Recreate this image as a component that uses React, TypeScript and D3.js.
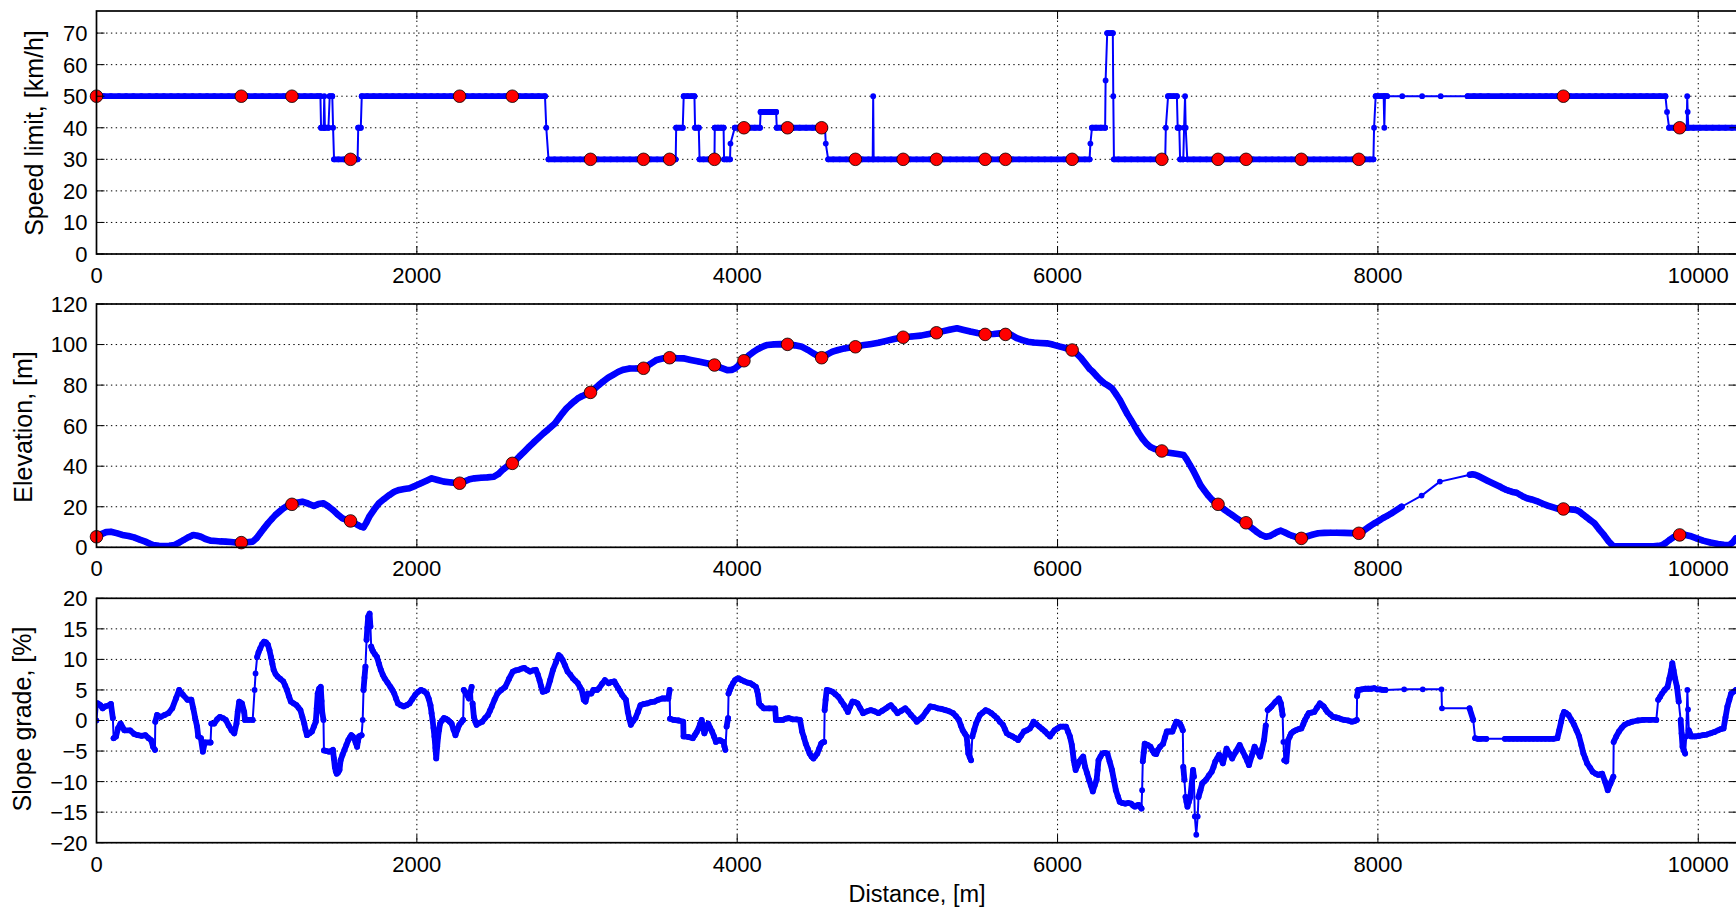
import React from "react";
import * as d3 from "d3";

// ---------- axis ticks ----------
const xTicks = [0, 2000, 4000, 6000, 8000, 10000];
const speedTicks = [0, 10, 20, 30, 40, 50, 60, 70];
const elevTicks = [0, 20, 40, 60, 80, 100, 120];
const slopeTicks = [-20, -15, -10, -5, 0, 5, 10, 15, 20];

// ---------- stops (red markers) ----------
const stopDist = [0, 904, 1220, 1586, 2267, 2596, 3084, 3415, 3578, 3858, 4042, 4314, 4527, 4738, 5036, 5244, 5548, 5675, 6091, 6651, 7002, 7177, 7522, 7881, 9158, 9884];
const stopSpeed = [50, 50, 50, 30, 50, 50, 30, 30, 30, 30, 40, 40, 40, 30, 30, 30, 30, 30, 30, 30, 30, 30, 30, 30, 50, 40];
const stopElev = [5.2, 2.3, 21.2, 13.0, 31.6, 41.4, 76.4, 88.3, 93.5, 89.9, 92.0, 100.1, 93.5, 98.9, 103.6, 105.8, 105.0, 105.0, 97.3, 47.5, 21.2, 12.1, 4.4, 6.9, 18.9, 6.1];

// ---------- speed limit [distance m, km/h] ----------
const speedLimit: [number, number][] = [
  [0,50],[45,50],[90,50],[140,50],[185,50],[230,50],[280,50],[330,50],[375,50],[420,50],[465,50],[510,50],[550,50],[600,50],[645,50],[690,50],[735,50],[780,50],[825,50],[870,50],[904,50],[945,50],[990,50],[1035,50],[1080,50],[1125,50],[1170,50],[1220,50],[1260,50],[1300,50],[1340,50],[1380,50],[1398,50],
  [1402,40],[1418,40],[1422,50],[1426,40],[1448,40],[1456,50],[1472,50],[1477,40],[1483,30],[1510,30],[1545,30],[1586,30],[1610,30],[1630,30],[1634,40],[1650,40],[1656,50],
  [1690,50],[1730,50],[1770,50],[1810,50],[1850,50],[1890,50],[1930,50],[1970,50],[2010,50],[2050,50],[2090,50],[2130,50],[2170,50],[2210,50],[2267,50],[2310,50],[2350,50],[2390,50],[2430,50],[2470,50],[2510,50],[2550,50],[2596,50],[2640,50],[2680,50],[2720,50],[2760,50],[2800,50],
  [2808,40],[2822,30],[2860,30],[2900,30],[2940,30],[2980,30],[3020,30],[3050,30],[3087,30],[3130,30],[3170,30],[3210,30],[3250,30],[3290,30],[3330,30],[3370,30],[3415,30],[3460,30],[3500,30],[3540,30],[3578,30],[3605,30],[3616,30],
  [3619,40],[3660,40],[3666,50],[3690,50],[3715,50],[3733,50],[3737,40],[3760,40],[3765,30],[3790,30],[3820,30],[3858,30],[3860,40],[3880,40],[3900,40],[3915,40],[3918,30],[3935,30],[3955,30],[3958,35],[3985,40],
  [4010,40],[4042,40],[4075,40],[4110,40],[4142,40],[4146,45],[4180,45],[4215,45],[4243,45],[4247,40],[4280,40],[4314,40],[4350,40],[4390,40],[4430,40],[4470,40],[4510,40],[4527,40],[4548,40],[4553,35],[4568,30],
  [4600,30],[4640,30],[4680,30],[4720,30],[4738,30],[4780,30],[4820,30],[4846,30],[4849,50],[4852,30],[4880,30],[4920,30],[4960,30],[5000,30],[5036,30],[5080,30],[5120,30],[5160,30],[5200,30],[5244,30],[5290,30],[5330,30],[5370,30],[5410,30],[5450,30],[5500,30],[5548,30],[5590,30],[5630,30],[5675,30],[5720,30],[5760,30],[5800,30],[5840,30],[5880,30],[5920,30],[5960,30],[6000,30],[6040,30],[6091,30],[6130,30],[6170,30],[6200,30],
  [6205,35],[6215,40],[6240,40],[6270,40],[6297,40],[6300,55],[6310,70],[6320,70],[6335,70],[6345,70],[6348,50],[6352,30],
  [6380,30],[6420,30],[6460,30],[6500,30],[6540,30],[6580,30],[6620,30],[6651,30],[6672,30],[6676,40],[6690,50],[6705,50],[6725,50],[6745,50],[6750,40],[6760,40],[6765,30],[6785,30],[6790,40],[6796,50],[6800,40],[6810,30],
  [6850,30],[6890,30],[6930,30],[6970,30],[7002,30],[7040,30],[7080,30],[7120,30],[7177,30],[7220,30],[7260,30],[7300,30],[7340,30],[7380,30],[7420,30],[7460,30],[7522,30],[7560,30],[7600,30],[7640,30],[7680,30],[7720,30],[7760,30],[7800,30],[7840,30],[7881,30],[7920,30],[7950,30],[7972,30],
  [7976,40],[7986,50],[8000,50],[8020,50],[8036,50],[8040,40],[8044,50],[8057,50],[8152,50],[8276,50],[8392,50],[8560,50],[8600,50],[8640,50],[8689,50],[8771,50],[8810,50],[8850,50],[8890,50],[8930,50],[8970,50],[9010,50],[9050,50],[9085,50],[9120,50],[9158,50],[9200,50],[9240,50],[9280,50],[9320,50],[9360,50],[9400,50],[9440,50],[9480,50],[9520,50],[9560,50],[9600,50],[9640,50],[9680,50],[9720,50],[9760,50],[9795,50],
  [9805,45],[9818,40],[9850,40],[9884,40],[9910,40],[9928,40],[9931,50],[9934,45],[9938,40],[9970,40],[10010,40],[10050,40],[10090,40],[10130,40],[10170,40],[10210,40],[10245,40],
];

// ---------- elevation [distance m, m] ----------
const elevation: [number, number][] = [
  [0,5.3],[30,6.5],[60,7.5],[90,7.7],[125,7.0],[162,6.1],[200,5.6],[234,4.9],[270,3.8],[305,2.8],[330,1.9],[353,1.1],[390,0.7],[425,0.6],[455,0.8],[485,1.1],[515,2.3],[544,3.6],[575,5.0],[604,6.1],[630,5.7],[652,5.2],[680,4.1],[712,3.3],[745,3.1],[776,2.9],[807,2.8],[840,2.6],[870,2.4],[904,2.3],[940,2.5],[975,2.8],[1000,4.6],[1022,6.9],[1046,9.4],[1070,11.8],[1095,14.0],[1118,16.0],[1142,17.6],[1165,19.1],[1190,20.4],[1218,21.2],[1250,22.0],[1285,22.5],[1320,21.6],[1357,20.4],[1385,21.3],[1417,21.7],[1445,20.3],[1476,18.4],[1505,16.2],[1536,14.3],[1560,13.6],[1586,13.0],[1610,12.0],[1631,11.0],[1650,10.2],[1667,9.8],[1685,12.2],[1703,15.1],[1733,18.6],[1763,21.7],[1795,23.8],[1827,25.7],[1859,27.4],[1890,28.3],[1922,28.7],[1954,29.1],[1990,30.3],[2026,31.6],[2060,32.8],[2093,34.0],[2130,33.2],[2169,32.4],[2215,32.0],[2267,31.6],[2300,32.6],[2330,33.6],[2360,34.0],[2400,34.3],[2440,34.5],[2480,34.8],[2510,36.2],[2540,38.5],[2566,40.0],[2596,41.4],[2620,43.2],[2645,45.2],[2671,47.2],[2700,49.5],[2730,51.8],[2760,54.0],[2790,56.2],[2815,57.8],[2840,59.6],[2862,61.1],[2887,63.8],[2910,66.2],[2934,68.5],[2960,70.4],[2983,72.0],[3005,73.4],[3030,74.5],[3055,75.4],[3084,76.4],[3110,78.2],[3137,80.1],[3162,81.7],[3195,83.7],[3228,85.2],[3258,86.6],[3290,87.6],[3329,88.2],[3370,88.2],[3415,88.2],[3455,90.3],[3496,92.4],[3540,93.2],[3578,93.5],[3620,93.3],[3664,93.2],[3710,92.4],[3759,91.6],[3810,90.8],[3858,89.9],[3900,88.5],[3938,87.4],[3965,87.5],[3986,88.2],[4010,89.8],[4042,92.0],[4075,94.8],[4100,96.3],[4130,97.8],[4160,99.0],[4189,99.8],[4230,100.1],[4270,100.2],[4314,100.1],[4360,99.6],[4405,98.9],[4440,97.4],[4476,95.6],[4500,94.5],[4527,93.5],[4560,95.0],[4595,96.5],[4630,97.3],[4670,98.1],[4705,98.5],[4738,98.9],[4780,99.6],[4830,100.2],[4882,100.9],[4930,101.8],[4980,102.7],[5036,103.6],[5090,104.0],[5145,104.4],[5190,105.1],[5244,105.9],[5280,106.5],[5325,107.3],[5372,108.0],[5415,107.2],[5456,106.4],[5500,105.7],[5548,105.1],[5600,105.2],[5640,105.5],[5675,105.9],[5710,104.8],[5745,103.2],[5780,102.2],[5814,101.4],[5850,101.0],[5890,100.8],[5933,100.6],[5970,100.0],[6010,99.1],[6050,98.3],[6091,97.3],[6120,95.5],[6148,93.2],[6175,90.5],[6200,88.0],[6220,86.6],[6245,84.4],[6268,82.5],[6290,81.0],[6315,79.8],[6340,78.4],[6365,75.5],[6390,72.5],[6411,69.3],[6435,65.8],[6460,62.6],[6483,59.5],[6505,56.5],[6530,53.6],[6555,51.2],[6580,49.5],[6610,48.4],[6651,47.5],[6685,46.8],[6717,46.4],[6750,46.0],[6787,45.5],[6805,43.5],[6825,40.8],[6845,38.1],[6868,34.5],[6892,30.7],[6915,28.2],[6938,25.8],[6965,23.4],[6997,21.2],[7020,19.8],[7045,18.4],[7068,17.1],[7090,15.9],[7115,14.5],[7140,13.2],[7172,12.1],[7195,10.6],[7220,9.1],[7242,7.7],[7270,6.2],[7300,5.2],[7325,5.6],[7350,6.6],[7372,7.6],[7394,8.2],[7420,7.3],[7445,6.3],[7464,5.7],[7490,5.0],[7517,4.4],[7550,5.2],[7590,6.2],[7627,6.9],[7665,7.1],[7705,7.2],[7743,7.2],[7790,7.1],[7835,7.0],[7876,6.9],[7910,8.2],[7945,10.1],[7977,11.8],[8000,12.8],[8015,13.6],[8035,14.6],[8055,15.4],[8075,16.3],[8090,17.0],[8148,20.0],[8273,25.5],[8387,32.4],[8575,35.8],[8590,36.0],[8605,35.8],[8620,35.4],[8687,32.7],[8760,30.0],[8780,29.1],[8800,28.4],[8820,27.8],[8840,27.3],[8866,26.9],[8890,25.8],[8910,24.9],[8930,24.2],[8960,23.6],[8991,22.8],[9026,21.6],[9060,20.6],[9090,19.8],[9120,19.1],[9158,18.9],[9190,18.8],[9220,18.6],[9241,18.3],[9259,17.6],[9280,16.2],[9300,15.0],[9324,13.5],[9353,11.8],[9380,9.0],[9411,6.1],[9440,3.0],[9470,0.5],[9500,0.5],[9530,0.5],[9563,0.5],[9600,0.5],[9640,0.5],[9680,0.5],[9720,0.5],[9750,0.7],[9773,1.0],[9797,2.2],[9820,3.6],[9850,5.2],[9884,6.1],[9915,6.2],[9948,5.6],[9990,4.4],[10030,3.3],[10075,2.4],[10123,1.6],[10160,1.2],[10193,1.1],[10215,2.4],[10235,4.4],
];

// ---------- slope grade [distance m, %] ----------
const slopeGrade: [number, number][] = [
  [0,0],[8,2.8],[24,2.5],[38,2.0],[54,2.3],[79,2.5],[90,2.7],[102,0.4],[107,-2.9],[122,-2.6],[134,-1.3],[150,-0.5],[174,-1.6],[210,-1.6],[235,-2.2],[258,-2.4],[282,-2.5],[305,-2.4],[325,-2.9],[341,-3.2],[353,-4.3],[365,-4.8],[367,-0.2],[378,0.9],[401,0.6],[425,0.9],[449,1.2],[473,2.0],[496,3.6],[516,5.0],[540,4.2],[568,3.4],[592,3.4],[604,2.0],[616,0.4],[628,-1.0],[635,-2.6],[652,-2.9],[664,-5.1],[676,-3.6],[712,-3.6],[717,-0.5],[735,-0.5],[753,0.2],[771,0.6],[789,0.4],[807,0.1],[825,-0.8],[843,-1.6],[860,-2.1],[874,-0.5],[882,1.5],[891,3.1],[908,2.8],[922,1.4],[927,0.1],[950,0.1],[975,0.1],
  [987,5.0],[993,7.7],[1003,10.4],[1012,11.2],[1022,11.8],[1034,12.5],[1046,12.9],[1058,12.8],[1070,12.4],[1080,11.5],[1089,10.4],[1098,9.3],[1106,8.3],[1118,7.6],[1130,7.2],[1148,6.8],[1166,6.4],[1178,5.7],[1189,5.0],[1201,4.0],[1213,3.1],[1231,2.8],[1249,2.5],[1261,2.1],[1273,1.7],[1285,0.6],[1297,-0.5],[1305,-1.5],[1314,-2.4],[1330,-2.1],[1345,-1.8],[1357,-1.0],[1369,-0.2],[1375,2.0],[1381,4.4],[1390,5.2],[1400,5.5],[1405,3.2],[1409,1.4],[1417,0.1],
  [1420,-4.9],[1436,-5.0],[1452,-5.1],[1464,-5.0],[1476,-4.8],[1482,-6.2],[1488,-7.6],[1494,-8.3],[1500,-8.7],[1508,-8.5],[1517,-8.1],[1524,-6.5],[1536,-5.6],[1548,-4.8],[1560,-4.0],[1572,-3.2],[1581,-2.8],[1591,-2.4],[1600,-2.6],[1608,-2.9],[1618,-3.6],[1627,-4.3],[1633,-3.3],[1639,-2.6],[1647,-2.5],[1655,-2.4],[1662,0.1],[1667,5.0],[1673,7.0],[1679,8.8],[1686,13.2],[1691,15.2],[1696,17.0],[1705,17.5],[1710,15.4],[1715,12.1],[1721,11.6],[1727,11.3],[1739,10.8],[1751,10.4],[1763,9.3],[1775,8.3],[1787,7.5],[1799,6.9],[1817,6.2],[1835,5.5],[1847,5.0],[1859,4.4],[1870,3.6],[1882,2.8],[1900,2.5],[1918,2.3],[1936,2.5],[1954,2.8],[1972,3.5],[1990,4.2],[2008,4.7],[2026,5.0],[2044,4.8],[2062,4.4],[2075,3.5],[2085,2.5],[2092,1.2],[2098,0.1],[2104,-1.2],[2110,-2.6],[2116,-4.5],[2121,-6.2],[2127,-4.2],[2133,-2.6],[2139,-1.5],[2145,-0.5],[2157,0.0],[2169,0.4],[2181,0.3],[2193,0.1],[2205,-0.2],[2217,-0.5],[2229,-1.5],[2241,-2.4],[2253,-1.5],[2265,-0.7],[2277,-0.3],[2289,0.1],
  [2293,5.0],[2303,4.6],[2313,4.2],[2325,3.6],[2334,4.6],[2342,5.5],[2348,2.8],[2356,0.6],[2365,-0.2],[2373,-0.7],[2390,-0.4],[2408,-0.2],[2426,0.4],[2444,0.9],[2456,1.6],[2468,2.3],[2485,3.4],[2503,4.4],[2527,5.0],[2552,5.5],[2575,6.8],[2599,8.0],[2617,8.2],[2635,8.3],[2653,8.5],[2671,8.6],[2688,8.3],[2706,8.0],[2725,8.2],[2743,8.3],[2755,7.5],[2766,6.6],[2776,5.6],[2786,4.7],[2800,4.8],[2814,5.0],[2832,6.6],[2850,8.3],[2868,9.5],[2886,10.7],[2898,10.4],[2910,9.9],[2925,9.0],[2941,8.0],[2958,7.5],[2974,6.9],[2990,6.5],[3005,6.1],[3017,5.5],[3029,5.0],[3042,3.4],[3053,3.1],[3066,4.4],[3089,4.4],[3102,5.0],[3125,5.0],[3138,5.3],[3156,6.0],[3174,6.6],[3198,6.1],[3215,6.3],[3233,6.4],[3245,5.8],[3257,5.3],[3269,4.8],[3281,4.2],[3293,3.8],[3305,3.4],[3317,1.4],[3326,0.3],[3336,-0.7],[3350,-0.1],[3365,0.4],[3380,1.4],[3396,2.5],[3417,2.7],[3437,2.8],[3460,3.0],[3484,3.1],[3508,3.4],[3532,3.6],[3548,3.6],[3570,3.6],[3578,5.0],[3581,0.3],[3604,0.1],[3635,0.0],[3663,-0.2],
  [3665,-2.6],[3695,-2.7],[3723,-2.9],[3735,-2.4],[3747,-1.9],[3759,-1.3],[3768,-0.6],[3778,0.1],[3786,-1.0],[3795,-2.1],[3807,-1.3],[3819,-0.5],[3831,-1.2],[3843,-1.8],[3855,-2.6],[3867,-3.5],[3879,-3.3],[3891,-3.2],[3903,-3.4],[3914,-3.5],[3920,-4.2],[3926,-4.8],[3934,-1.0],[3943,0.4],[3946,4.4],[3954,5.0],[3962,5.5],[3974,6.1],[3986,6.6],[3998,6.8],[4010,6.9],[4028,6.6],[4046,6.4],[4064,6.2],[4082,6.1],[4100,5.8],[4117,5.5],[4124,4.9],[4130,4.2],[4137,2.8],[4150,2.4],[4166,2.0],[4200,2.0],[4237,2.0],[4242,0.1],[4264,0.1],[4285,0.1],[4303,0.3],[4321,0.4],[4345,0.2],[4370,0.2],[4392,0.1],[4405,-1.8],[4417,-2.8],[4428,-3.8],[4440,-4.6],[4452,-5.4],[4464,-5.9],[4476,-6.2],[4488,-5.8],[4500,-5.4],[4512,-4.6],[4524,-3.8],[4533,-3.6],[4543,-3.5],
  [4546,1.7],[4552,3.4],[4559,5.0],[4577,4.9],[4595,4.7],[4613,4.3],[4631,3.9],[4649,3.2],[4667,2.5],[4679,2.0],[4691,1.4],[4705,2.3],[4720,3.1],[4735,3.0],[4751,2.8],[4768,2.0],[4786,1.2],[4810,1.5],[4834,1.7],[4858,1.5],[4882,1.2],[4906,1.6],[4930,2.0],[4945,2.3],[4959,2.5],[4980,1.9],[5001,1.2],[5025,1.6],[5049,2.0],[5067,1.5],[5085,0.9],[5103,0.4],[5121,-0.2],[5139,0.2],[5157,0.6],[5181,1.5],[5205,2.3],[5228,2.2],[5252,2.0],[5276,1.9],[5300,1.7],[5324,1.5],[5348,1.2],[5366,0.7],[5384,0.1],[5396,-0.8],[5408,-1.6],[5420,-2.1],[5432,-2.6],[5438,-4.0],[5443,-5.4],[5452,-6.0],[5460,-6.5],[5468,-2.6],[5480,-1.5],[5491,-0.5],[5503,0.2],[5515,0.9],[5533,1.3],[5551,1.7],[5569,1.5],[5587,1.2],[5605,0.8],[5622,0.4],[5640,-0.2],[5659,-0.7],[5671,-1.4],[5683,-2.1],[5701,-2.4],[5719,-2.6],[5737,-2.9],[5754,-3.2],[5772,-2.5],[5790,-1.8],[5808,-1.6],[5827,-1.3],[5839,-0.8],[5850,-0.2],[5868,-0.6],[5886,-1.0],[5904,-1.4],[5922,-1.8],[5937,-2.2],[5953,-2.6],[5967,-2.1],[5981,-1.6],[5999,-1.3],[6017,-1.0],[6035,-1.0],[6053,-1.0],[6065,-1.8],[6077,-2.6],
  [6089,-4.0],[6095,-5.2],[6101,-6.5],[6107,-7.3],[6113,-8.1],[6124,-7.4],[6136,-6.7],[6148,-6.3],[6160,-5.9],[6172,-7.6],[6184,-8.6],[6196,-9.7],[6208,-10.6],[6220,-11.6],[6232,-10.6],[6244,-9.7],[6250,-8.1],[6256,-6.5],[6268,-5.9],[6280,-5.4],[6295,-5.3],[6311,-5.4],[6325,-6.7],[6340,-8.1],[6352,-9.8],[6364,-11.4],[6376,-12.4],[6388,-13.3],[6405,-13.5],[6423,-13.6],[6441,-13.5],[6459,-13.6],[6471,-13.9],[6483,-14.1],[6495,-13.9],[6507,-13.8],[6516,-14.1],[6524,-14.4],[6528,-11.4],[6532,-6.7],[6538,-5.2],[6544,-3.8],[6562,-4.0],[6580,-4.3],[6592,-4.9],[6604,-5.4],[6616,-5.5],[6627,-4.8],[6640,-4.3],[6659,-3.8],[6670,-2.8],[6682,-1.8],[6700,-1.8],[6717,-1.8],[6729,-1.0],[6741,-0.2],[6753,-0.3],[6764,-0.5],[6773,-1.0],[6782,-1.6],
  [6785,-7.6],[6792,-9.7],[6799,-12.5],[6805,-13.3],[6811,-14.1],[6820,-13.3],[6829,-12.5],[6838,-10.3],[6846,-8.1],[6851,-9.2],[6857,-15.7],[6866,-18.7],[6875,-15.7],[6880,-12.5],[6892,-11.4],[6903,-10.3],[6915,-10.0],[6927,-9.7],[6945,-9.0],[6962,-8.4],[6974,-7.6],[6985,-6.7],[6997,-6.2],[7009,-5.6],[7020,-6.3],[7032,-7.0],[7044,-5.8],[7055,-4.6],[7072,-5.4],[7090,-6.2],[7113,-5.1],[7137,-4.0],[7155,-5.0],[7172,-5.9],[7184,-6.6],[7195,-7.3],[7212,-5.8],[7230,-4.3],[7248,-5.1],[7265,-5.9],[7277,-4.6],[7289,-3.2],[7300,-0.8],[7312,1.7],[7324,2.0],[7336,2.3],[7359,3.0],[7382,3.6],[7394,2.8],[7400,1.8],[7405,0.9],[7410,-3.5],[7416,-6.5],[7428,-6.7],[7434,-4.9],[7440,-3.2],[7450,-2.6],[7459,-2.1],[7473,-1.8],[7487,-1.6],[7505,-1.4],[7522,-1.3],[7534,-0.6],[7545,0.1],[7557,0.7],[7568,1.2],[7585,1.3],[7603,1.4],[7620,2.1],[7638,2.8],[7650,2.5],[7662,2.3],[7674,1.8],[7685,1.4],[7703,1.0],[7720,0.6],[7738,0.5],[7755,0.4],[7773,0.2],[7790,0.1],[7814,0.0],[7837,-0.2],[7855,-0.1],[7868,0.1],
  [7870,4.0],[7876,5.0],[7883,5.0],[7900,5.1],[7920,5.2],[7940,5.2],[7960,5.2],[7977,5.3],[7995,5.1],[8012,5.1],[8030,5.0],[8047,5.0],[8164,5.1],[8280,5.1],[8397,5.1],[8400,2.0],[8572,2.0],[8595,0.1],[8607,-2.9],[8625,-3.0],[8640,-3.0],[8677,-3.0],[8793,-3.0],[8820,-3.0],[8845,-3.0],[8870,-3.0],[8895,-3.0],[8920,-3.0],[8945,-3.0],[8970,-3.0],[8995,-3.0],[9020,-3.0],[9045,-3.0],[9070,-3.0],[9095,-3.0],[9120,-2.9],
  [9132,-1.6],[9144,-0.2],[9153,0.8],[9162,1.4],[9176,1.2],[9190,0.9],[9208,0.1],[9225,-0.7],[9240,-1.6],[9256,-2.6],[9270,-4.0],[9283,-5.4],[9295,-6.2],[9306,-7.0],[9324,-7.7],[9341,-8.4],[9359,-8.7],[9376,-8.9],[9388,-8.8],[9400,-8.7],[9418,-10.0],[9435,-11.4],[9452,-10.3],[9470,-9.2],[9472,-3.5],[9488,-2.6],[9505,-1.8],[9522,-1.2],[9540,-0.7],[9564,-0.4],[9587,-0.2],[9622,0.0],[9657,0.1],[9697,0.1],[9738,0.1],[9750,3.4],[9762,3.9],[9773,4.4],[9790,5.0],[9808,5.5],[9820,6.9],[9832,8.3],[9838,9.4],[9846,8.2],[9855,6.9],[9867,5.5],[9878,3.1],[9890,0.1],[9896,-2.1],[9902,-4.3],[9910,-4.9],[9918,-5.4],[9925,-2.6],[9932,5.0],[9936,1.8],[9941,-1.6],[9948,-2.1],[9955,-2.6],[9969,-2.6],[9983,-2.6],[10006,-2.5],[10030,-2.4],[10053,-2.3],[10077,-2.1],[10100,-1.9],[10123,-1.6],[10140,-1.4],[10158,-1.3],[10170,0.5],[10182,2.3],[10194,3.4],[10205,4.4],[10220,4.7],[10235,5.0],
];

// ---------- layout / style ----------
const W = 1736;
const H = 910;
const LEFT = 96.5;
const RIGHT = 1737.5;
const X_MAX = 10245;
const FONT = "'Liberation Sans', Arial, Helvetica, sans-serif";
const BLUE = "#0000ff";
const TICK_FS = 22;
const LABEL_FS = 25;

const x = d3.scaleLinear().domain([0, X_MAX]).range([LEFT, RIGHT]);
const fmt = (v: number) => (v < 0 ? "\u2212" + Math.abs(v) : String(v));

type PanelProps = {
  id: string;
  top: number;
  bottom: number;
  domain: [number, number];
  ticks: number[];
  label: string;
  labelX: number;
  labelY: number;
  data: [number, number][];
  stops?: number[];
  band: number;
};

function Panel(p: PanelProps) {
  const y = d3.scaleLinear().domain(p.domain).range([p.bottom, p.top]);
  const pts: [number, number][] = p.data.map(([d, v]) => [x(d), y(v)]);
  const line = d3.line();
  // runs of closely spaced samples, where overlapping markers form a band
  const runs: [number, number][][] = [];
  let cur: [number, number][] = [];
  for (let i = 1; i < pts.length; i++) {
    const a = pts[i - 1];
    const b = pts[i];
    const len = Math.hypot(b[0] - a[0], b[1] - a[1]);
    if (len < 15) {
      if (cur.length === 0) cur.push(a);
      cur.push(b);
    } else if (cur.length) {
      runs.push(cur);
      cur = [];
    }
  }
  if (cur.length) runs.push(cur);
  const clipId = "clip-" + p.id;
  const tl = 8;
  return (
    <g>
      <defs>
        <clipPath id={clipId}>
          <rect x={LEFT} y={p.top} width={RIGHT - LEFT} height={p.bottom - p.top} />
        </clipPath>
      </defs>
      {/* grid */}
      <g stroke="#000" strokeWidth={1} strokeDasharray="1.4 3.4" fill="none">
        {p.ticks.map((t) => (
          <line key={"gy" + t} x1={LEFT} x2={RIGHT} y1={y(t)} y2={y(t)} />
        ))}
        {xTicks.map((t) => (
          <line key={"gx" + t} x1={x(t)} x2={x(t)} y1={p.top} y2={p.bottom} />
        ))}
      </g>
      {/* data */}
      <g clipPath={`url(#${clipId})`}>
        <path d={line(pts) || ""} fill="none" stroke={BLUE} strokeWidth={2} strokeLinejoin="round" />
        {runs.map((r, i) => (
          <path key={i} d={line(r) || ""} fill="none" stroke={BLUE} strokeWidth={p.band} strokeLinejoin="round" strokeLinecap="round" />
        ))}
        {pts.map((q, i) => (
          <circle key={i} cx={q[0]} cy={q[1]} r={2.9} fill={BLUE} />
        ))}
      </g>
      {p.stops &&
        p.stops.map((v, i) => (
          <circle key={"s" + i} cx={x(stopDist[i])} cy={y(v)} r={6.3} fill="#ff0000" stroke="#000" strokeWidth={0.8} />
        ))}
      {/* ticks */}
      <g stroke="#000" strokeWidth={1}>
        {p.ticks.map((t) => (
          <g key={"ty" + t}>
            <line x1={LEFT} x2={LEFT + tl} y1={y(t)} y2={y(t)} />
            <line x1={RIGHT - tl} x2={RIGHT} y1={y(t)} y2={y(t)} />
          </g>
        ))}
        {xTicks.map((t) => (
          <g key={"tx" + t}>
            <line x1={x(t)} x2={x(t)} y1={p.bottom} y2={p.bottom - tl} />
            <line x1={x(t)} x2={x(t)} y1={p.top} y2={p.top + tl} />
          </g>
        ))}
      </g>
      {/* frame */}
      <rect x={LEFT} y={p.top} width={RIGHT - LEFT} height={p.bottom - p.top} fill="none" stroke="#000" strokeWidth={1.7} />
      {/* tick labels */}
      <g fontFamily={FONT} fontSize={TICK_FS} fill="#000">
        {p.ticks.map((t) => (
          <text key={"ly" + t} x={87.5} y={y(t)} dy="0.36em" textAnchor="end">
            {fmt(t)}
          </text>
        ))}
        {xTicks.map((t) => (
          <text key={"lx" + t} x={x(t)} y={p.bottom + 29} textAnchor="middle">
            {fmt(t)}
          </text>
        ))}
      </g>
      <text
        transform={`translate(${p.labelX},${p.labelY}) rotate(-90)`}
        textAnchor="middle"
        fontFamily={FONT}
        fontSize={LABEL_FS}
        fill="#000"
      >
        {p.label}
      </text>
    </g>
  );
}

export default function App() {
  return (
    <svg
      width={W}
      height={H}
      viewBox={`0 0 ${W} ${H}`}
      style={{ position: "absolute", left: 0, top: 0, display: "block", background: "#fff" }}
    >
      <rect x={0} y={0} width={W} height={H} fill="#fff" />
      <Panel id="speed" top={11} bottom={254} domain={[0, 77]} ticks={speedTicks} label="Speed limit, [km/h]" labelX={42.5} labelY={133} data={speedLimit} stops={stopSpeed} band={5.8} />
      <Panel id="elev" top={304} bottom={547.3} domain={[0, 120]} ticks={elevTicks} label="Elevation, [m]" labelX={31.9} labelY={427} data={elevation} stops={stopElev} band={6.6} />
      <Panel id="slope" top={598.3} bottom={842.7} domain={[-20, 20]} ticks={slopeTicks} label="Slope grade, [%]" labelX={31.2} labelY={719} data={slopeGrade} band={5.8} />
      <text x={917} y={902} textAnchor="middle" fontFamily={FONT} fontSize={23.5} fill="#000">
        Distance, [m]
      </text>
    </svg>
  );
}
